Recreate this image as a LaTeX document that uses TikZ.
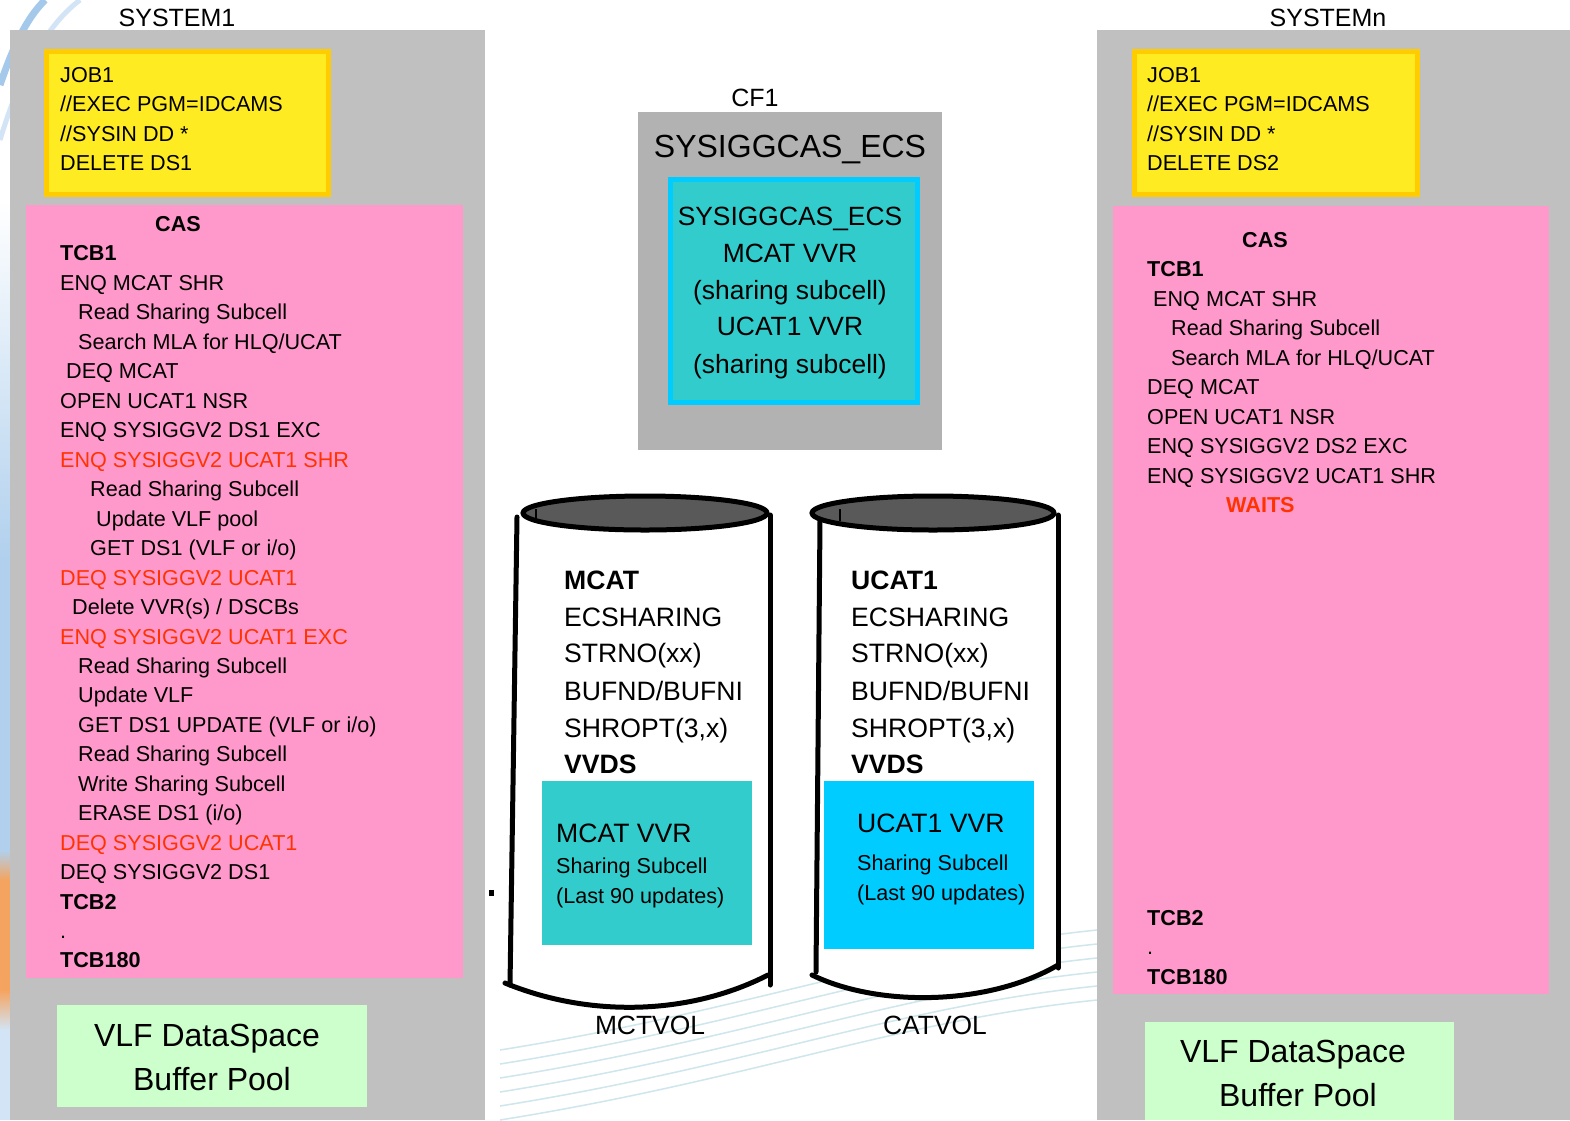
\documentclass[tikz,border=0pt]{standalone}
\usepackage{fontspec}
\setmainfont{Liberation Sans}
\definecolor{panelgray}{HTML}{C0C0C0}
\definecolor{cfgray}{HTML}{B2B2B2}
\definecolor{casPink}{HTML}{FF99CC}
\definecolor{jobYellow}{HTML}{FFEB22}
\definecolor{jobBorder}{HTML}{FFCC00}
\definecolor{tealFill}{HTML}{33CCCC}
\definecolor{skyFill}{HTML}{00CCFF}
\definecolor{vlfGreen}{HTML}{CCFFCC}
\definecolor{enqRed}{HTML}{FF3300}
\definecolor{topGray}{HTML}{595959}
\definecolor{swooshBlue}{HTML}{8FBCE6}
\definecolor{swooshLight}{HTML}{CFE6EC}
\definecolor{swooshOrange}{HTML}{F5A460}
\tikzset{
  ln/.style={anchor=base west, inner sep=0pt, font=\fontsize{21.6}{25}\selectfont},
  lnc/.style={anchor=base, inner sep=0pt, font=\fontsize{21.6}{25}\selectfont},
  redln/.style={ln, text=enqRed},
  boldln/.style={ln, font=\fontsize{21.6}{25}\selectfont\bfseries},
  cyl/.style={anchor=base west, inner sep=0pt, font=\fontsize{26.6}{30}\selectfont},
  cylbold/.style={cyl, font=\fontsize{26.6}{30}\selectfont\bfseries},
  big/.style={anchor=base, inner sep=0pt, font=\fontsize{32}{36}\selectfont},
  lbl/.style={anchor=base, inner sep=0pt, font=\fontsize{25}{29}\selectfont},
  mid/.style={anchor=base, inner sep=0pt, font=\fontsize{26.4}{30}\selectfont},
  cylline/.style={line width=5pt, line cap=round},
}
\begin{document}
\begin{tikzpicture}[x=1pt,y=-1pt]
\useasboundingbox (0,0) rectangle (1570,1120);
\fill[white] (0,0) rectangle (1570,1120);
% background decoration
\shade[top color=white, bottom color=swooshBlue!70] (0,200) rectangle (10,560);
\fill[swooshBlue!70] (0,560) rectangle (10,850);
\shade[top color=swooshBlue!70, bottom color=swooshOrange] (0,850) rectangle (10,880);
\fill[swooshOrange] (0,880) rectangle (10,990);
\shade[top color=swooshOrange, bottom color=swooshBlue!40] (0,990) rectangle (10,1030);
\fill[swooshBlue!40] (0,1030) rectangle (10,1120);
\draw[swooshBlue, line width=7pt, opacity=0.8] (0,85) .. controls (12,50) and (25,20) .. (45,0);
\draw[swooshBlue!50, line width=5pt, opacity=0.8] (0,140) .. controls (15,90) and (40,30) .. (80,0);
\foreach \d in {0,14,28,42,56,70}
  \draw[swooshLight, line width=1.5pt] (500,1120-\d) .. controls (750,1080-\d) and (900,1020-\d) .. (1097,1000-\d);

% ---------- SYSTEM1 ----------
\node[lbl] (sys1) at (177,26) {SYSTEM1};
\fill[panelgray] (10,30) rectangle (485,1120);
\node[draw=jobBorder, line width=5pt, fill=jobYellow, minimum width=282pt, minimum height=143pt, anchor=north west, inner sep=0pt] (job1) at (43.5,48.5) {};
\node[ln] (j1a) at (60,82.5) {JOB1};
\node[ln] (j1b) at (60,111.5) {//EXEC PGM=IDCAMS};
\node[ln] (j1c) at (60,141.5) {//SYSIN DD *};
\node[ln] (j1d) at (60,170.5) {DELETE DS1};

\fill[casPink] (26,205) rectangle (463,978);
\node[lnc, font=\fontsize{21.6}{25}\selectfont\bfseries] (cas1) at (178,231.5) {CAS};
\node[boldln] (a01) at (60,260.5) {TCB1};
\node[ln] (a02) at (60,290.5) {ENQ MCAT SHR};
\node[ln] (a03) at (78,319.5) {Read Sharing Subcell};
\node[ln] (a04) at (78,349.5) {Search MLA for HLQ/UCAT};
\node[ln] (a05) at (66,378.5) {DEQ MCAT};
\node[ln] (a06) at (60,408.5) {OPEN UCAT1 NSR};
\node[ln] (a07) at (60,437.5) {ENQ SYSIGGV2 DS1 EXC};
\node[redln] (a08) at (60,467.5) {ENQ SYSIGGV2 UCAT1 SHR};
\node[ln] (a09) at (90,496.5) {Read Sharing Subcell};
\node[ln] (a10) at (96,526.5) {Update VLF pool};
\node[ln] (a11) at (90,555.5) {GET DS1 (VLF or i/o)};
\node[redln] (a12) at (60,585.5) {DEQ SYSIGGV2 UCAT1};
\node[ln] (a13) at (72,614.5) {Delete VVR(s) / DSCBs};
\node[redln] (a14) at (60,644.5) {ENQ SYSIGGV2 UCAT1 EXC};
\node[ln] (a15) at (78,673.5) {Read Sharing Subcell};
\node[ln] (a16) at (78,702.5) {Update VLF};
\node[ln] (a17) at (78,732.5) {GET DS1 UPDATE (VLF or i/o)};
\node[ln] (a18) at (78,761.5) {Read Sharing Subcell};
\node[ln] (a19) at (78,791.5) {Write Sharing Subcell};
\node[ln] (a20) at (78,820.5) {ERASE DS1 (i/o)};
\node[redln] (a21) at (60,850.5) {DEQ SYSIGGV2 UCAT1};
\node[ln] (a22) at (60,879.5) {DEQ SYSIGGV2 DS1};
\node[boldln] (a23) at (60,909.5) {TCB2};
\node[ln] (a24) at (60,938.5) {.};
\node[boldln] (a25) at (60,967.5) {TCB180};

\fill[vlfGreen] (57,1005) rectangle (367,1107);
\node[big] (vlf1a) at (207,1046.5) {VLF DataSpace};
\node[big] (vlf1b) at (212,1090.5) {Buffer Pool};

% ---------- SYSTEMn ----------
\node[lbl] (sysn) at (1328,26) {SYSTEMn};
\fill[panelgray] (1097,30) rectangle (1570,1120);
\node[draw=jobBorder, line width=5pt, fill=jobYellow, minimum width=283pt, minimum height=143pt, anchor=north west, inner sep=0pt] (job2) at (1131.5,48.5) {};
\node[ln] (j2a) at (1147,82.5) {JOB1};
\node[ln] (j2b) at (1147,111.5) {//EXEC PGM=IDCAMS};
\node[ln] (j2c) at (1147,141.5) {//SYSIN DD *};
\node[ln] (j2d) at (1147,170.5) {DELETE DS2};

\fill[casPink] (1113,206) rectangle (1549,994);
\node[lnc, font=\fontsize{21.6}{25}\selectfont\bfseries] (cas2) at (1265,247.5) {CAS};
\node[boldln] (b01) at (1147,276.5) {TCB1};
\node[ln] (b02) at (1153,306.5) {ENQ MCAT SHR};
\node[ln] (b03) at (1171,335.5) {Read Sharing Subcell};
\node[ln] (b04) at (1171,365.5) {Search MLA for HLQ/UCAT};
\node[ln] (b05) at (1147,394.5) {DEQ MCAT};
\node[ln] (b06) at (1147,424.5) {OPEN UCAT1 NSR};
\node[ln] (b07) at (1147,453.5) {ENQ SYSIGGV2 DS2 EXC};
\node[ln] (b08) at (1147,483.5) {ENQ SYSIGGV2 UCAT1 SHR};
\node[boldln, text=enqRed] (b09) at (1226,512.5) {WAITS};
\node[boldln] (b10) at (1147,925.5) {TCB2};
\node[ln] (b11) at (1147,954.5) {.};
\node[boldln] (b12) at (1147,984.5) {TCB180};

\fill[vlfGreen] (1145,1022) rectangle (1454,1120);
\node[big] (vlf2a) at (1293,1062.5) {VLF DataSpace};
\node[big] (vlf2b) at (1298,1106.5) {Buffer Pool};

% ---------- CF1 ----------
\node[lbl] (cf1) at (755,106) {CF1};
\fill[cfgray] (638,112) rectangle (942,450);
\node[big] (cfname) at (790,157.5) {SYSIGGCAS\_ECS};
\node[draw=skyFill, line width=5pt, fill=tealFill, minimum width=247pt, minimum height=223pt, anchor=north west, inner sep=0pt] (cfbox) at (667.5,176.5) {};
\node[mid] (cf2) at (790,225) {SYSIGGCAS\_ECS};
\node[mid] (cf3) at (790,262) {MCAT VVR};
\node[mid] (cf4) at (790,299) {(sharing subcell)};
\node[mid] (cf5) at (790,335) {UCAT1 VVR};
\node[mid] (cf6) at (790,373) {(sharing subcell)};

% ---------- MCTVOL cylinder ----------
\fill[white] (517,517) -- (510,983) .. controls (590,1018) and (690,1015) .. (768,975) -- (770,515) -- cycle;
\draw[cylline] (517,517) -- (510,985);
\draw[cylline] (770,515) -- (770,985);
\draw[cylline] (505,983) .. controls (590,1018) and (690,1015) .. (768,975);
\draw[line width=5pt, fill=topGray] (645,513) ellipse [x radius=122, y radius=17];
\draw[line width=2.5pt] (536,509) -- (536,521);
\node[cylbold] (m1) at (564,589.3) {MCAT};
\node[cyl] (m2) at (564,626.3) {ECSHARING};
\node[cyl] (m3) at (564,662.3) {STRNO(xx)};
\node[cyl] (m4) at (564,700.3) {BUFND/BUFNI};
\node[cyl] (m5) at (564,737.3) {SHROPT(3,x)};
\node[cylbold] (m6) at (564,773.3) {VVDS};
\fill[tealFill] (542,781) rectangle (752,945);
\node[cyl] (mv1) at (556,842.3) {MCAT VVR};
\node[ln] (mv2) at (556,873.5) {Sharing Subcell};
\node[ln] (mv3) at (556,903.5) {(Last 90 updates)};
\node[mid] (mctvol) at (650,1034.3) {MCTVOL};
\fill (489,890) rectangle (494,896);

% ---------- CATVOL cylinder ----------
\fill[white] (820,520) -- (816,975) .. controls (880,1008) and (990,1005) .. (1058,965) -- (1058,515) -- cycle;
\draw[cylline] (820,520) -- (816,972);
\draw[cylline] (1058,515) -- (1058,968);
\draw[cylline] (812,975) .. controls (880,1008) and (990,1005) .. (1058,965);
\draw[line width=5pt, fill=topGray] (933,513) ellipse [x radius=121, y radius=17];
\draw[line width=2.5pt] (840,509) -- (840,521);
\node[cylbold] (u1) at (851,589.3) {UCAT1};
\node[cyl] (u2) at (851,626.3) {ECSHARING};
\node[cyl] (u3) at (851,662.3) {STRNO(xx)};
\node[cyl] (u4) at (851,700.3) {BUFND/BUFNI};
\node[cyl] (u5) at (851,737.3) {SHROPT(3,x)};
\node[cylbold] (u6) at (851,773.3) {VVDS};
\fill[skyFill] (824,781) rectangle (1034,949);
\node[cyl] (uv1) at (857,832.3) {UCAT1 VVR};
\node[ln] (uv2) at (857,870.5) {Sharing Subcell};
\node[ln] (uv3) at (857,900.5) {(Last 90 updates)};
\node[mid] (catvol) at (935,1034.3) {CATVOL};
\end{tikzpicture}
\end{document}
